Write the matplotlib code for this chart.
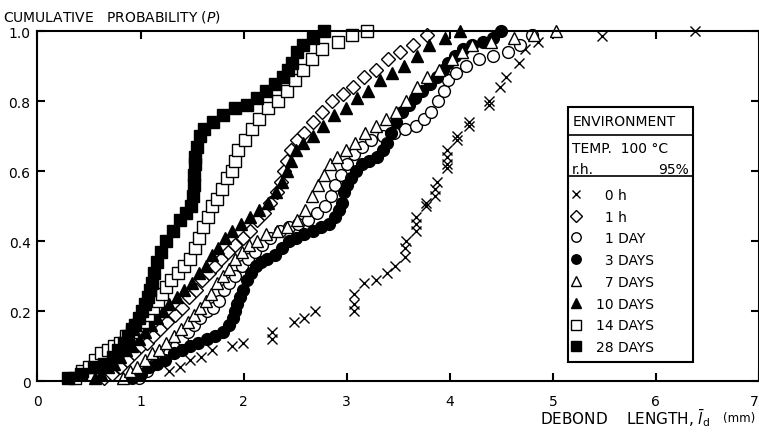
#############################################
# cumulative probability of debond length
# for different ageing times (100 C, 95% rh)
#############################################

import matplotlib
matplotlib.use("Agg")
import matplotlib.pyplot as plt
from matplotlib.patches import Rectangle
from matplotlib.lines import Line2D

# data, debond length (mm) vs cumulative probability
x_0h = [1.28, 1.38, 1.48, 1.59, 1.69, 1.89, 1.99, 2.28, 2.28, 2.49, 2.59, 2.69,
        3.07, 3.07, 3.07, 3.17, 3.28, 3.39, 3.47, 3.57, 3.57, 3.58, 3.67, 3.67,
        3.67, 3.77, 3.77, 3.86, 3.86, 3.88, 3.97, 3.97, 3.97, 3.97, 4.07, 4.07,
        4.19, 4.19, 4.38, 4.38, 4.49, 4.55, 4.67, 4.73, 4.86, 5.48, 6.38]
p_0h = [0.03, 0.04, 0.06, 0.07, 0.09, 0.10, 0.11, 0.12, 0.14, 0.17, 0.18, 0.20,
        0.20, 0.22, 0.25, 0.28, 0.29, 0.31, 0.33, 0.355, 0.38, 0.40, 0.43, 0.45,
        0.47, 0.50, 0.51, 0.53, 0.55, 0.57, 0.61, 0.62, 0.64, 0.66, 0.69, 0.70,
        0.73, 0.74, 0.79, 0.80, 0.84, 0.87, 0.91, 0.95, 0.97, 0.985, 1.0]

x_1h = [0.65, 0.72, 0.80, 0.87, 0.94, 1.00, 1.06, 1.12, 1.19, 1.26, 1.33, 1.40,
        1.47, 1.54, 1.60, 1.66, 1.72, 1.78, 1.85, 1.92, 1.99, 2.06, 2.13, 2.20,
        2.26, 2.32, 2.36, 2.39, 2.42, 2.46, 2.52, 2.59, 2.67, 2.76, 2.86, 2.96,
        3.06, 3.17, 3.28, 3.40, 3.52, 3.64, 3.78]
p_1h = [0.01, 0.02, 0.04, 0.06, 0.08, 0.10, 0.11, 0.13, 0.15, 0.17, 0.19, 0.21,
        0.24, 0.26, 0.29, 0.31, 0.33, 0.35, 0.37, 0.39, 0.41, 0.43, 0.46, 0.48,
        0.51, 0.54, 0.57, 0.60, 0.63, 0.66, 0.69, 0.71, 0.74, 0.77, 0.80, 0.82,
        0.84, 0.87, 0.89, 0.92, 0.94, 0.96, 0.99]

x_1d = [0.98, 1.06, 1.14, 1.22, 1.28, 1.34, 1.40, 1.46, 1.52, 1.58, 1.64, 1.70,
        1.76, 1.81, 1.86, 1.92, 1.98, 2.04, 2.11, 2.18, 2.26, 2.35, 2.44, 2.53,
        2.62, 2.71, 2.79, 2.85, 2.89, 2.94, 3.00, 3.07, 3.15, 3.24, 3.35, 3.46,
        3.57, 3.67, 3.75, 3.82, 3.89, 3.94, 3.98, 4.06, 4.16, 4.28, 4.42, 4.56,
        4.68, 4.80]
p_1d = [0.01, 0.03, 0.05, 0.06, 0.08, 0.10, 0.12, 0.14, 0.16, 0.18, 0.20, 0.21,
        0.23, 0.26, 0.28, 0.30, 0.33, 0.35, 0.37, 0.39, 0.41, 0.43, 0.44, 0.45,
        0.46, 0.48, 0.50, 0.53, 0.56, 0.59, 0.62, 0.65, 0.67, 0.69, 0.70, 0.71,
        0.72, 0.73, 0.75, 0.77, 0.80, 0.83, 0.86, 0.88, 0.90, 0.92, 0.93, 0.94,
        0.96, 0.99]

x_3d = [0.92, 1.00, 1.08, 1.16, 1.24, 1.32, 1.40, 1.48, 1.56, 1.64, 1.72, 1.80,
        1.86, 1.90, 1.92, 1.94, 1.96, 1.99, 2.03, 2.07, 2.12, 2.17, 2.23, 2.30,
        2.37, 2.44, 2.51, 2.59, 2.67, 2.75, 2.83, 2.89, 2.93, 2.95, 2.97, 3.00,
        3.04, 3.09, 3.15, 3.22, 3.29, 3.35, 3.39, 3.43, 3.48, 3.54, 3.60, 3.66,
        3.73, 3.81, 3.88, 3.93, 3.98, 4.05, 4.13, 4.22, 4.32, 4.42, 4.50]
p_3d = [0.01, 0.02, 0.04, 0.05, 0.06, 0.08, 0.09, 0.10, 0.11, 0.12, 0.13, 0.14,
        0.16, 0.18, 0.20, 0.22, 0.24, 0.26, 0.29, 0.31, 0.33, 0.34, 0.35, 0.36,
        0.38, 0.40, 0.41, 0.42, 0.43, 0.44, 0.45, 0.47, 0.49, 0.51, 0.54, 0.56,
        0.58, 0.60, 0.62, 0.63, 0.64, 0.66, 0.68, 0.71, 0.74, 0.77, 0.79, 0.81,
        0.83, 0.85, 0.87, 0.89, 0.91, 0.93, 0.95, 0.96, 0.97, 0.98, 1.0]

x_7d = [0.83, 0.90, 0.97, 1.04, 1.11, 1.18, 1.25, 1.32, 1.39, 1.46, 1.52, 1.58,
        1.63, 1.68, 1.74, 1.80, 1.86, 1.92, 1.98, 2.05, 2.13, 2.22, 2.32, 2.42,
        2.52, 2.60, 2.66, 2.72, 2.78, 2.84, 2.91, 2.99, 3.08, 3.18, 3.28, 3.38,
        3.48, 3.58, 3.68, 3.78, 3.90, 4.02, 4.12, 4.22, 4.40, 4.62, 4.82, 5.03]
p_7d = [0.01, 0.03, 0.04, 0.06, 0.08, 0.09, 0.11, 0.13, 0.15, 0.17, 0.19, 0.21,
        0.23, 0.25, 0.28, 0.30, 0.32, 0.35, 0.37, 0.39, 0.40, 0.42, 0.43, 0.44,
        0.46, 0.49, 0.53, 0.56, 0.59, 0.62, 0.64, 0.66, 0.68, 0.71, 0.73, 0.75,
        0.77, 0.80, 0.84, 0.87, 0.89, 0.92, 0.94, 0.96, 0.97, 0.98, 0.99, 1.0]

x_10d = [0.56, 0.62, 0.68, 0.74, 0.80, 0.86, 0.92, 0.98, 1.04, 1.10, 1.16, 1.22,
         1.28, 1.35, 1.42, 1.50, 1.57, 1.63, 1.69, 1.75, 1.82, 1.89, 1.97, 2.06,
         2.15, 2.24, 2.31, 2.37, 2.42, 2.46, 2.51, 2.58, 2.67, 2.77, 2.88, 2.99,
         3.10, 3.21, 3.32, 3.44, 3.56, 3.68, 3.80, 3.95, 4.10]
p_10d = [0.01, 0.02, 0.04, 0.05, 0.07, 0.09, 0.10, 0.12, 0.14, 0.16, 0.18, 0.20,
         0.22, 0.24, 0.26, 0.28, 0.31, 0.33, 0.36, 0.38, 0.41, 0.43, 0.45, 0.47,
         0.49, 0.51, 0.54, 0.57, 0.60, 0.63, 0.66, 0.68, 0.70, 0.73, 0.76, 0.78,
         0.81, 0.83, 0.86, 0.88, 0.90, 0.93, 0.96, 0.98, 1.0]

x_14d = [0.36, 0.43, 0.50, 0.56, 0.62, 0.68, 0.74, 0.80, 0.86, 0.92, 0.97, 1.02,
         1.07, 1.12, 1.17, 1.21, 1.25, 1.30, 1.36, 1.42, 1.48, 1.53, 1.57, 1.61,
         1.65, 1.69, 1.74, 1.79, 1.84, 1.89, 1.92, 1.95, 2.01, 2.08, 2.15, 2.24,
         2.33, 2.42, 2.50, 2.58, 2.66, 2.76, 2.92, 3.05, 3.20]
p_14d = [0.01, 0.03, 0.04, 0.06, 0.08, 0.09, 0.10, 0.11, 0.13, 0.14, 0.16, 0.17,
         0.19, 0.21, 0.23, 0.25, 0.27, 0.29, 0.31, 0.33, 0.35, 0.38, 0.41, 0.44,
         0.47, 0.50, 0.52, 0.55, 0.58, 0.60, 0.63, 0.66, 0.69, 0.72, 0.75, 0.78,
         0.80, 0.83, 0.86, 0.89, 0.92, 0.95, 0.97, 0.99, 1.0]

x_28d = [0.30, 0.42, 0.55, 0.65, 0.73, 0.78, 0.84, 0.88, 0.92, 0.95, 0.98, 1.01,
         1.04, 1.07, 1.09, 1.11, 1.13, 1.16, 1.20, 1.25, 1.31, 1.38, 1.44, 1.49,
         1.51, 1.52, 1.52, 1.53, 1.53, 1.55, 1.58, 1.62, 1.70, 1.80, 1.92, 2.03,
         2.13, 2.22, 2.30, 2.38, 2.43, 2.47, 2.52, 2.58, 2.67, 2.78]
p_28d = [0.01, 0.02, 0.04, 0.05, 0.07, 0.09, 0.11, 0.13, 0.15, 0.16, 0.18, 0.20,
         0.22, 0.24, 0.26, 0.28, 0.31, 0.34, 0.37, 0.40, 0.43, 0.46, 0.48, 0.50,
         0.53, 0.56, 0.59, 0.62, 0.64, 0.67, 0.70, 0.72, 0.74, 0.76, 0.78, 0.79,
         0.81, 0.83, 0.85, 0.87, 0.89, 0.91, 0.94, 0.96, 0.98, 1.0]

labels = ["\u20070 h", "\u20071 h", "\u20071 DAY", "\u20073 DAYS", "\u20077 DAYS",
          "10 DAYS", "14 DAYS", "28 DAYS"]
xticks = [0, 1, 2, 3, 4, 5, 6, 7]
yticks = [0, 0.2, 0.4, 0.6, 0.8, 1.0]
ytick_labels = ["0", "0.2", "0.4", "0.6", "0.8", "1.0"]

plt.rcParams["font.family"] = "DejaVu Sans"

fig = plt.figure(figsize=(7.59, 4.35), dpi=100)
ax = fig.add_axes([0.0494, 0.1218, 0.9506, 0.8046])

# series: (x, p, marker, face colour, size, legend size)
series = [
    (x_0h, p_0h, "x", "k", 7, 6),
    (x_1h, p_1h, "D", "white", 7.5, 6.5),
    (x_1d, p_1d, "o", "white", 8.5, 6.8),
    (x_3d, p_3d, "o", "k", 8.5, 6.8),
    (x_7d, p_7d, "^", "white", 8.5, 7),
    (x_10d, p_10d, "^", "k", 8.5, 7),
    (x_14d, p_14d, "s", "white", 8, 6.5),
    (x_28d, p_28d, "s", "k", 8, 6.5),
]
handles = []
for (xs, ps, mk, fc, ms, lms), lab in zip(series, labels):
    ax.plot(xs, ps, linestyle="none", marker=mk, markersize=ms,
            markerfacecolor=fc, markeredgecolor="k", markeredgewidth=1.0,
            color="k", clip_on=False)
    handles.append(Line2D([], [], linestyle="none", marker=mk,
                          markersize=lms, markerfacecolor=fc,
                          markeredgecolor="k", markeredgewidth=1.0,
                          color="k", label=lab))

ax.set_xlim(0, 7)
ax.set_ylim(0, 1.0)
ax.set_xticks(xticks)
ax.set_yticks(yticks)
ax.set_yticklabels(ytick_labels)
ax.tick_params(direction="in", length=6, width=1.5, top=True, right=True,
               labelsize=10)
ax.tick_params(axis="x", pad=9)
ax.tick_params(axis="y", pad=5)
# last x label sits at the figure edge, keep it inside
ax.get_xticklabels()[-1].set_horizontalalignment("right")
for s in ax.spines.values():
    s.set_linewidth(1.5)

# axis titles
fig.text(0.004, 0.962, r"CUMULATIVE   PROBABILITY ($\it{P}$)", fontsize=10,
         ha="left", va="center")
fig.text(0.936, 0.038, r"DEBOND    LENGTH, $\bar{l}_{\mathrm{d}}$", fontsize=11,
         ha="right", va="center")
fig.text(0.995, 0.038, "(mm)", fontsize=8.5, ha="right", va="center")

# legend box with environment header
x0, x1 = 0.735, 0.909
y0, y1 = 0.054, 0.783
ax.add_patch(Rectangle((x0, y0), x1 - x0, y1 - y0, transform=ax.transAxes,
                       facecolor="white", edgecolor="k", linewidth=1.5,
                       zorder=5))
ax.plot([x0, x1], [0.703, 0.703], transform=ax.transAxes, color="k", lw=1.2,
        zorder=6)
ax.plot([x0, x1], [0.586, 0.586], transform=ax.transAxes, color="k", lw=1.2,
        zorder=6)
ax.text(x0 + 0.006, 0.743, "ENVIRONMENT", transform=ax.transAxes, fontsize=10,
        va="center", ha="left", zorder=7)
ax.text(x0 + 0.006, 0.667, "TEMP.  100 °C", transform=ax.transAxes, fontsize=10,
        va="center", ha="left", zorder=7)
ax.text(x0 + 0.006, 0.607, "r.h.", transform=ax.transAxes, fontsize=10,
        va="center", ha="left", zorder=7)
ax.text(x1 - 0.006, 0.607, "95%", transform=ax.transAxes, fontsize=10,
        va="center", ha="right", zorder=7)

leg = ax.legend(handles=handles, loc="upper left",
                bbox_to_anchor=(x0 - 0.002, 0.560), frameon=False,
                fontsize=10, labelspacing=0.56, handlelength=1.0,
                handletextpad=0.9, borderaxespad=0.0, borderpad=0.2)
leg.set_zorder(8)

fig.savefig("out.png", dpi=100)
